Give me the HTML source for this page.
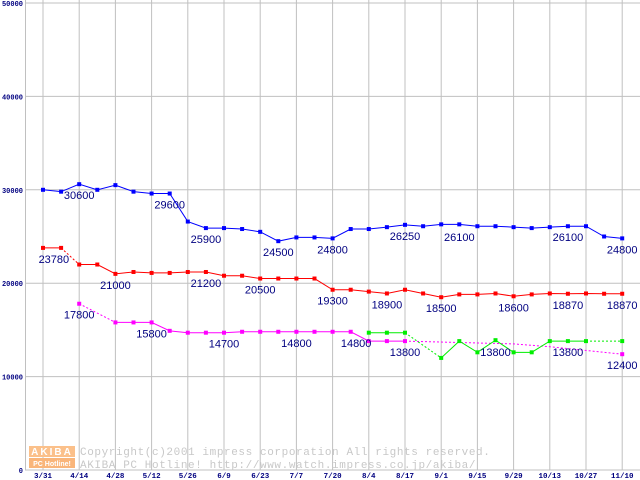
<!DOCTYPE html>
<html><head><meta charset="utf-8"><style>
html,body{margin:0;padding:0;background:#fff;}
svg{display:block;}
</style></head><body>
<svg id="c" width="640" height="480" xmlns="http://www.w3.org/2000/svg"></svg>
<script>
var s=document.getElementById('c'),h='';
function X(k){return 43+18.1*k;}
function Y(v){return 470-v*0.00934;}
for(var i=0;i<=16;i++){var x=X(2*i);h+='<line x1="'+x+'" y1="0" x2="'+x+'" y2="470" stroke="#c0c0c0" stroke-width="1"/>';}
h+='<line x1="25.5" y1="0" x2="25.5" y2="470" stroke="#c0c0c0" stroke-width="1"/>';
for(var j=0;j<=5;j++){var y=Y(j*10000);h+='<line x1="25" y1="'+y+'" x2="640" y2="'+y+'" stroke="#c0c0c0" stroke-width="1"/>';
h+='<text x="23" y="'+(y+3)+'" font-family="Liberation Mono,monospace" font-size="7" font-weight="bold" fill="#000080" text-anchor="end">'+(j*10000)+'</text>';}
var xl=['3/31','4/14','4/28','5/12','5/26','6/9','6/23','7/7','7/20','8/4','8/17','9/1','9/15','9/29','10/13','10/27','11/10'];
for(var i=0;i<17;i++)h+='<text x="'+X(2*i)+'" y="478" font-family="Liberation Mono,monospace" font-size="7.5" font-weight="bold" fill="#000080" text-anchor="middle">'+xl[i]+'</text>';
h+='<rect x="29" y="446" width="46" height="11" fill="#fbc08a"/><rect x="29" y="458" width="46" height="10" fill="#f9b57a"/>';
h+='<text x="52" y="455" font-family="Liberation Sans,sans-serif" font-size="10" font-weight="bold" fill="#fff" text-anchor="middle" letter-spacing="2">AKIBA</text>';
h+='<text x="52" y="466" font-family="Liberation Sans,sans-serif" font-size="7" font-weight="bold" fill="#fff" text-anchor="middle">PC Hotline!</text>';
h+='<text x="80" y="455" font-family="Liberation Mono,monospace" font-size="11" letter-spacing="0.6" fill="#c8c8c8">Copyright(c)2001 impress corporation All rights reserved.</text>';
h+='<text x="80" y="468" font-family="Liberation Mono,monospace" font-size="11" letter-spacing="0.6" fill="#c8c8c8">AKIBA PC Hotline!  http://www.watch.impress.co.jp/akiba/</text>';
function line(pts,col,dash){var p=pts.map(function(a){return X(a[0])+','+Y(a[1]);}).join(' ');
h+='<polyline points="'+p+'" fill="none" stroke="'+col+'" stroke-width="1"'+(dash?' stroke-dasharray="2,2"':'')+'/>';}
function marks(pts,col){pts.forEach(function(a){h+='<rect x="'+(X(a[0])-2)+'" y="'+(Y(a[1])-2)+'" width="4" height="4" fill="'+col+'"/>';});}
function lab(k,v,dx){h+='<text x="'+(X(k)+(dx||0))+'" y="'+(Y(v)+15)+'" font-family="Liberation Sans,sans-serif" font-size="11" fill="#000080" text-anchor="middle">'+v+'</text>';}
function seq(start,arr){return arr.map(function(v,i){return [start+i,v];});}
var blue=seq(0,[30000,29800,30600,30000,30500,29800,29600,29600,26600,25900,25900,25800,25500,24500,24900,24900,24800,25800,25800,26000,26250,26100,26300,26300,26100,26100,26000,25900,26000,26100,26100,25000,24800]);
line(blue,'#0000ff');marks(blue,'#0000ff');
var red=seq(0,[23780,23780,22000,22000,21000,21200,21100,21100,21200,21200,20800,20800,20500,20500,20500,20500,19300,19300,19100,18900,19300,18900,18500,18800,18800,18900,18600,18800,18900,18870,18900,18870,18870]);
line(red.slice(0,2),'#ff0000');line(red.slice(1,3),'#ff0000',1);line(red.slice(2),'#ff0000');marks(red,'#ff0000');
var mag=[[2,17800],[4,15800],[5,15800],[6,15800],[7,14900],[8,14700],[9,14700],[10,14700],[11,14800],[12,14800],[13,14800],[14,14800],[15,14800],[16,14800],[17,14800],[18,13800],[19,13800],[20,13800]];
line(mag.slice(0,2),'#ff00ff',1);line(mag.slice(1),'#ff00ff');
line([[20,13800],[26,13500],[28,13200],[32,12400]],'#ff00ff',1);
marks(mag,'#ff00ff');marks([[32,12400]],'#ff00ff');
var gr=[[18,14700],[19,14700],[20,14700]],gr2=[[22,12000],[23,13800],[24,12600],[25,13900],[26,12600],[27,12600],[28,13800],[29,13800],[30,13800]];
line(gr,'#00ee00');line([[20,14700],[22,12000]],'#00ee00',1);line(gr2,'#00ee00');line([[30,13800],[32,13800]],'#00ee00',1);
marks(gr,'#00ee00');marks(gr2,'#00ee00');marks([[32,13800]],'#00ee00');
lab(2,30600);lab(7,29600);lab(9,25900);lab(13,24500);lab(16,24800);lab(20,26250);lab(23,26100);lab(29,26100);lab(32,24800);
lab(0.6,23780);lab(4,21000);lab(9,21200);lab(12,20500);lab(16,19300);lab(19,18900);lab(22,18500);lab(26,18600);lab(29,18870);lab(32,18870);
lab(2,17800);lab(6,15800);lab(10,14700);lab(14,14800);lab(17.3,14800);lab(20,13800);lab(25,13800);lab(29,13800);lab(32,12400);
s.innerHTML=h;
</script>
</body></html>
